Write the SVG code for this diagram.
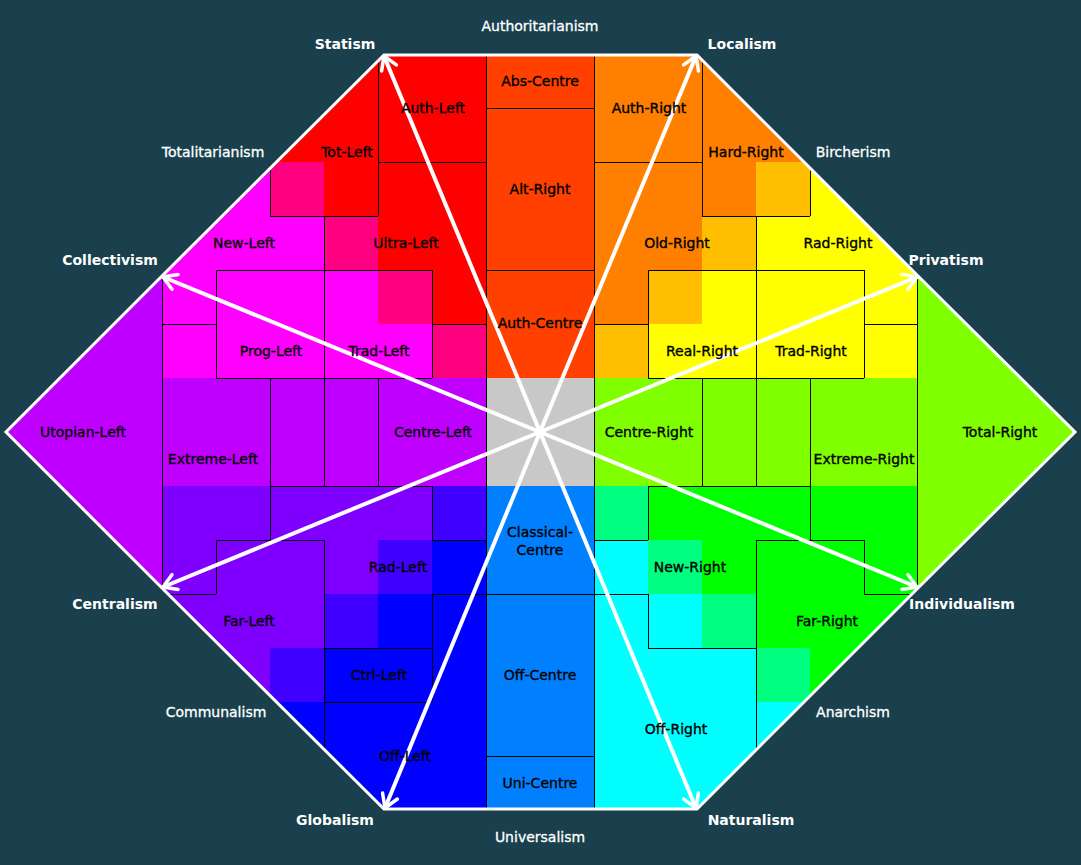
<svg xmlns="http://www.w3.org/2000/svg" width="1081" height="865" viewBox="0 0 1081 865">
<defs>
<clipPath id="oct"><polygon points="384,55 697,55 918,276 1075,432 918,588 697,809 384,809 162,588 6,432 162,276"/></clipPath>
<marker id="ah" viewBox="0 0 20 20" refX="17" refY="10" markerWidth="20" markerHeight="20" markerUnits="userSpaceOnUse" orient="auto"><path d="M4,2 L17,10 L4,18" fill="none" stroke="#fff" stroke-width="3.5" stroke-linecap="round" stroke-linejoin="round"/></marker>
</defs>
<style>
.t{font-family:"DejaVu Sans","Liberation Sans",sans-serif;font-size:14px;text-anchor:middle;fill:#000;stroke:#000;stroke-width:0.35}
.w{fill:#fff;stroke:#fff;stroke-width:0.3}
.b{font-weight:bold;stroke-width:0}
.arr line{stroke:#fff;stroke-width:4;marker-end:url(#ah)}
</style>
<rect width="1081" height="865" fill="#19404c"/>
<g id="cells" clip-path="url(#oct)">
<rect x="162" y="54" width="324" height="324" fill="#ff00ff"/>
<rect x="270" y="54" width="216" height="108" fill="#ff0000"/>
<rect x="324" y="162" width="162" height="54" fill="#ff0000"/>
<rect x="378" y="216" width="108" height="54" fill="#ff0000"/>
<rect x="432" y="270" width="54" height="54" fill="#ff0000"/>
<rect x="270" y="162" width="54" height="54" fill="#ff0080"/>
<rect x="324" y="216" width="54" height="54" fill="#ff0080"/>
<rect x="378" y="270" width="54" height="54" fill="#ff0080"/>
<rect x="432" y="324" width="54" height="54" fill="#ff0080"/>
<rect x="594" y="54" width="324" height="324" fill="#ffff00"/>
<rect x="594" y="54" width="216" height="108" fill="#ff8000"/>
<rect x="594" y="162" width="162" height="54" fill="#ff8000"/>
<rect x="594" y="216" width="108" height="54" fill="#ff8000"/>
<rect x="594" y="270" width="54" height="54" fill="#ff8000"/>
<rect x="756" y="162" width="54" height="54" fill="#ffbf00"/>
<rect x="702" y="216" width="54" height="54" fill="#ffbf00"/>
<rect x="648" y="270" width="54" height="54" fill="#ffbf00"/>
<rect x="594" y="324" width="54" height="54" fill="#ffbf00"/>
<rect x="486" y="54" width="108" height="324" fill="#ff4000"/>
<rect x="486" y="378" width="108" height="108" fill="#c8c8c8"/>
<rect x="486" y="486" width="108" height="324" fill="#0080ff"/>
<rect x="162" y="378" width="324" height="108" fill="#bf00ff"/>
<rect x="594" y="378" width="324" height="108" fill="#80ff00"/>
<rect x="162" y="486" width="324" height="324" fill="#8000ff"/>
<rect x="432" y="540" width="54" height="54" fill="#0000ff"/>
<rect x="378" y="594" width="108" height="54" fill="#0000ff"/>
<rect x="324" y="648" width="162" height="54" fill="#0000ff"/>
<rect x="270" y="702" width="216" height="108" fill="#0000ff"/>
<rect x="432" y="486" width="54" height="54" fill="#4000ff"/>
<rect x="378" y="540" width="54" height="54" fill="#4000ff"/>
<rect x="324" y="594" width="54" height="54" fill="#4000ff"/>
<rect x="270" y="648" width="54" height="54" fill="#4000ff"/>
<rect x="594" y="486" width="324" height="324" fill="#00ff00"/>
<rect x="594" y="540" width="54" height="54" fill="#00ffff"/>
<rect x="594" y="594" width="108" height="54" fill="#00ffff"/>
<rect x="594" y="648" width="162" height="54" fill="#00ffff"/>
<rect x="594" y="702" width="216" height="108" fill="#00ffff"/>
<rect x="594" y="486" width="54" height="54" fill="#00ff80"/>
<rect x="648" y="540" width="54" height="54" fill="#00ff80"/>
<rect x="702" y="594" width="54" height="54" fill="#00ff80"/>
<rect x="756" y="648" width="54" height="54" fill="#00ff80"/>
<polygon points="162,276 6,432 162,588" fill="#bf00ff"/>
<polygon points="918,276 1075,432 918,588" fill="#80ff00"/>
</g>
<g id="grid" clip-path="url(#oct)" fill="none" stroke="#000" stroke-width="1" shape-rendering="crispEdges">
<path d="M486.5 54V810M594.5 54V810M378.5 54V216M702.5 54V216M270.5 162V216M810.5 162V216M324.5 216V486M324.5 540V810M756.5 216V486M756.5 540V810M432.5 270V378M432.5 486V540M432.5 594V702M648.5 270V378M648.5 486V540M648.5 594V648M216.5 270V378M216.5 540V594M864.5 270V378M864.5 540V594M162.5 270V594M917.5 270V594M270.5 378V540M810.5 378V540M378.5 378V486M702.5 378V486"/>
<path d="M486 108.5H594M378 162.5H486M594 162.5H702M270 216.5H378M702 216.5H810M216 270.5H432M648 270.5H864M486 270.5H594M162 324.5H216M432 324.5H486M594 324.5H648M864 324.5H918M216 378.5H432M648 378.5H864M270 486.5H432M648 486.5H810M216 540.5H324M432 540.5H486M594 540.5H648M756 540.5H864M162 594.5H216M432 594.5H648M864 594.5H918M324 648.5H432M648 648.5H756M324 702.5H432M486 756.5H594"/>
</g>
<polygon id="outline" points="384,55 697,55 918,276 1075,432 918,588 697,809 384,809 162,588 6,432 162,276" fill="none" stroke="#fff" stroke-width="3"/>
<g id="connectors" class="arr">
<line x1="540" y1="432" x2="384" y2="56"/>
<line x1="540" y1="432" x2="696" y2="56"/>
<line x1="540" y1="432" x2="917" y2="277"/>
<line x1="540" y1="432" x2="917" y2="587"/>
<line x1="540" y1="432" x2="696" y2="808"/>
<line x1="540" y1="432" x2="385" y2="808"/>
<line x1="540" y1="432" x2="163" y2="587"/>
<line x1="540" y1="432" x2="163" y2="277"/>
</g>
<g id="axis-labels" class="t w">
<g id="n-authoritarianism"><text x="540" y="31">Authoritarianism</text></g>
<g id="n-statism"><text class="b" x="345" y="49">Statism</text></g>
<g id="n-localism"><text class="b" x="742" y="49">Localism</text></g>
<g id="n-totalitarianism"><text x="213" y="157">Totalitarianism</text></g>
<g id="n-bircherism"><text x="853" y="157">Bircherism</text></g>
<g id="n-collectivism"><text class="b" x="110" y="265">Collectivism</text></g>
<g id="n-privatism"><text class="b" x="946" y="265">Privatism</text></g>
<g id="n-centralism"><text class="b" x="115" y="609">Centralism</text></g>
<g id="n-individualism"><text class="b" x="962" y="609">Individualism</text></g>
<g id="n-communalism"><text x="216" y="717">Communalism</text></g>
<g id="n-anarchism"><text x="853" y="717">Anarchism</text></g>
<g id="n-globalism"><text class="b" x="335" y="825">Globalism</text></g>
<g id="n-naturalism"><text class="b" x="751" y="825">Naturalism</text></g>
<g id="n-universalism"><text x="540" y="842">Universalism</text></g>
</g>
<g id="region-labels" class="t">
<g id="n-auth-left"><text x="433" y="113">Auth-Left</text></g>
<g id="n-abs-centre"><text x="540" y="86">Abs-Centre</text></g>
<g id="n-auth-right"><text x="649" y="113">Auth-Right</text></g>
<g id="n-tot-left"><text x="347" y="157">Tot-Left</text></g>
<g id="n-hard-right"><text x="746" y="157">Hard-Right</text></g>
<g id="n-alt-right"><text x="540" y="194">Alt-Right</text></g>
<g id="n-new-left"><text x="244" y="248">New-Left</text></g>
<g id="n-ultra-left"><text x="406" y="248">Ultra-Left</text></g>
<g id="n-old-right"><text x="677" y="248">Old-Right</text></g>
<g id="n-rad-right"><text x="838" y="248">Rad-Right</text></g>
<g id="n-auth-centre"><text x="540" y="328">Auth-Centre</text></g>
<g id="n-prog-left"><text x="271" y="356">Prog-Left</text></g>
<g id="n-trad-left"><text x="379" y="356">Trad-Left</text></g>
<g id="n-real-right"><text x="702" y="356">Real-Right</text></g>
<g id="n-trad-right"><text x="811" y="356">Trad-Right</text></g>
<g id="n-utopian-left"><text x="83" y="437">Utopian-Left</text></g>
<g id="n-centre-left"><text x="433" y="437">Centre-Left</text></g>
<g id="n-centre-right"><text x="649" y="437">Centre-Right</text></g>
<g id="n-total-right"><text x="1000" y="437">Total-Right</text></g>
<g id="n-extreme-left"><text x="213" y="464">Extreme-Left</text></g>
<g id="n-extreme-right"><text x="864" y="464">Extreme-Right</text></g>
<g id="n-classical-centre"><text x="540" y="537">Classical-</text><text x="540" y="555">Centre</text></g>
<g id="n-rad-left"><text x="398" y="572">Rad-Left</text></g>
<g id="n-new-right"><text x="690" y="572">New-Right</text></g>
<g id="n-far-left"><text x="249" y="626">Far-Left</text></g>
<g id="n-far-right"><text x="827" y="626">Far-Right</text></g>
<g id="n-ctrl-left"><text x="379" y="680">Ctrl-Left</text></g>
<g id="n-off-centre"><text x="540" y="680">Off-Centre</text></g>
<g id="n-off-right"><text x="676" y="734">Off-Right</text></g>
<g id="n-off-left"><text x="405" y="761">Off-Left</text></g>
<g id="n-uni-centre"><text x="540" y="788">Uni-Centre</text></g>
</g>
</svg>
